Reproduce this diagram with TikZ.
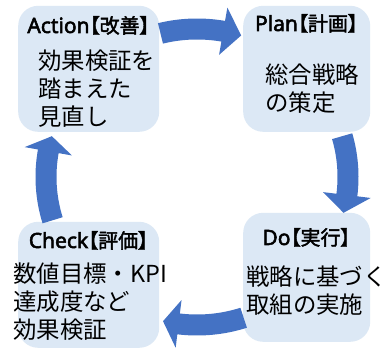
\documentclass[tikz,border=0pt]{standalone}
\usepackage{fontspec}
\newfontfamily\jp{Noto Sans CJK JP}
\newfontfamily\jph[RawFeature=+palt,AutoFakeBold=2]{Noto Sans CJK JP}
\newfontfamily\latb[AutoFakeBold=2.5]{Noto Sans}
\definecolor{boxfill}{HTML}{DCE8F5}
\definecolor{arrowblue}{HTML}{4472C4}
\newcommand{\cycarrow}[3]{%
  \fill[arrowblue] ([shift={(197,174)}]#1:161.5pt and 158.5pt)
    arc[start angle=#1, end angle=#2, x radius=161.5pt, y radius=158.5pt]
    -- ([shift={(197,174)}]#2:175pt and 172pt)
    -- ([shift={(197,174)}]#3:151pt and 148pt)
    -- ([shift={(197,174)}]#2:127pt and 124pt)
    -- ([shift={(197,174)}]#2:140.5pt and 137.5pt)
    arc[start angle=#2, end angle=#1, x radius=140.5pt, y radius=137.5pt]
    -- cycle;}
\newcommand{\hd}[2]{{\latb\bfseries\fontsize{21}{24}\selectfont #1}{\jph\bfseries\fontsize{20}{24}\selectfont #2}}
\begin{document}
\begin{tikzpicture}[x=1pt,y=1pt,
  box/.style={fill=boxfill, rounded corners=20pt, draw=none, inner sep=0pt, anchor=south west},
  head/.style={anchor=base, inner sep=0pt},
  body/.style={anchor=base west, align=left, inner sep=0pt, font=\jp\fontsize{23.4}{28}\selectfont}]
\fill[white] (0,0) rectangle (386,351);
\useasboundingbox (0,0) rectangle (386,351);
% boxes
\node[box, minimum width=141pt, minimum height=126pt] (action) at (18,219) {};
\node[box, minimum width=127pt, minimum height=126pt] (plan) at (243,219) {};
\node[box, minimum width=141pt, minimum height=126pt] (check) at (18,3) {};
\node[box, minimum width=127pt, minimum height=129pt] (do) at (243,9) {};
% headings
\node[head] (actionh) at (88.5,318) {\hd{Action}{【改善】}};
\node[head] (planh) at (306.5,320) {\hd{Plan}{【計画】}};
\node[head] (checkh) at (88.5,103) {\hd{Check}{【評価】}};
\node[head] (doh) at (306.5,106) {\hd{Do}{【実行】}};
% bodies (base anchor = baseline of the last line)
\node[body] (actionb) at (38,225) {効果検証を\\踏まえた\\見直し};
\node[body] (planb) at (265,239) {総合戦略\\の策定};
\node[body] (checkb) at (13,12) {数値目標・KPI\\達成度など\\効果検証};
\node[body] (dob) at (246,37) {戦略に基づく\\取組の実施};
% cycle arrows
\cycarrow{104}{80}{73}
\cycarrow{16}{-7}{-14}
\cycarrow{-72}{-97}{-103}
\cycarrow{197}{170}{164}
\end{tikzpicture}
\end{document}
